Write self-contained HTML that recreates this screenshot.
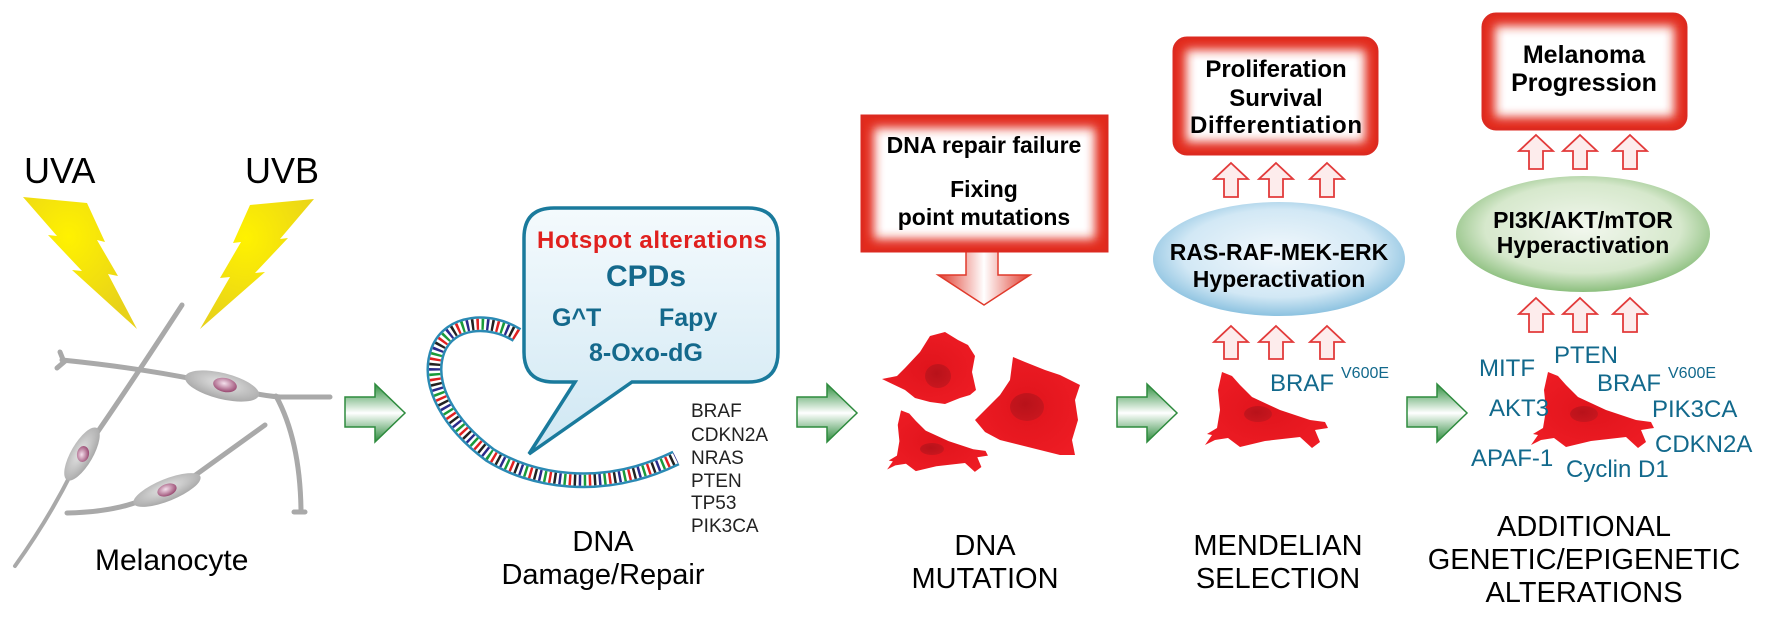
<!DOCTYPE html>
<html><head><meta charset="utf-8"><style>
html,body{margin:0;padding:0;background:#fff;}
svg{display:block;}
text{font-family:"Liberation Sans",Arial,sans-serif;}
.b{font-weight:bold;}
</style></head><body>
<svg width="1772" height="619" viewBox="0 0 1772 619" xmlns="http://www.w3.org/2000/svg">
<defs>
<linearGradient id="gA" x1="0" y1="0" x2="0" y2="1">
<stop offset="0" stop-color="#2f8f3f"/><stop offset="0.5" stop-color="#ffffff"/><stop offset="1" stop-color="#2a8a3a"/></linearGradient>
<linearGradient id="dA" x1="0" y1="0" x2="1" y2="0">
<stop offset="0" stop-color="#e03a2c"/><stop offset="0.5" stop-color="#ffffff"/><stop offset="1" stop-color="#e03a2c"/></linearGradient>
<linearGradient id="bub" x1="0" y1="0" x2="0" y2="1">
<stop offset="0" stop-color="#f4fafd"/><stop offset="1" stop-color="#cfe7f3"/></linearGradient>
<radialGradient id="blueE" cx="0.5" cy="0.45" r="0.55">
<stop offset="0" stop-color="#f2f8fc"/><stop offset="0.7" stop-color="#d2e8f5"/><stop offset="1" stop-color="#8cc2e0"/></radialGradient>
<radialGradient id="greenE" cx="0.5" cy="0.45" r="0.55">
<stop offset="0" stop-color="#f2f7ee"/><stop offset="0.7" stop-color="#d6e8cc"/><stop offset="1" stop-color="#8cbf7e"/></radialGradient>
<radialGradient id="bolt" cx="0.4" cy="0.3" r="0.7">
<stop offset="0" stop-color="#fff200"/><stop offset="1" stop-color="#e8d21a"/></radialGradient>
<radialGradient id="cell" cx="0.5" cy="0.5" r="0.6">
<stop offset="0" stop-color="#e0141c"/><stop offset="1" stop-color="#ee1c24"/></radialGradient>
<radialGradient id="nuc" cx="0.45" cy="0.4" r="0.6">
<stop offset="0" stop-color="#b8121a"/><stop offset="1" stop-color="#c8161e"/></radialGradient>
<radialGradient id="gcell" cx="0.5" cy="0.4" r="0.6">
<stop offset="0" stop-color="#e4e4e4"/><stop offset="1" stop-color="#a8a8a8"/></radialGradient>
<radialGradient id="pn" cx="0.45" cy="0.4" r="0.6">
<stop offset="0" stop-color="#f4e0ec"/><stop offset="1" stop-color="#9a4a72"/></radialGradient>
<filter id="bl" x="-10%" y="-10%" width="120%" height="120%"><feGaussianBlur stdDeviation="5"/></filter>
<clipPath id="c1"><rect x="861" y="115" width="247" height="137"/></clipPath>
<clipPath id="c2"><rect x="1173" y="37" width="205" height="118" rx="14"/></clipPath>
<clipPath id="c3"><rect x="1482" y="13" width="205" height="117" rx="14"/></clipPath>
</defs>

<!-- UV -->
<text x="24" y="183" font-size="36">UVA</text>
<text x="245" y="183" font-size="36">UVB</text>
<polygon fill="url(#bolt)" points="23,197 87,203 105,242 97,240 118,276 108,274 137,329 72,270 82,271 48,235 57,236"/>
<polygon fill="url(#bolt)" points="314,199 250,205 233,243 241,242 220,278 230,277 200,329 265,272 255,273 288,238 280,239"/>

<!-- melanocytes -->
<g stroke="#a9a9a9" stroke-linecap="round" fill="none" stroke-width="5">
<path d="M182,305 Q130,385 92,440"/>
<path d="M72,472 Q48,520 15,566" stroke-width="4"/>
<path d="M60,352 L64,362 L57,368"/>
<path d="M62,360 Q140,368 198,380"/>
<path d="M248,392 Q265,396 280,397 L330,397"/>
<path d="M276,396 Q300,440 301,510"/>
<path d="M294,512 L305,512"/>
<path d="M67,513 Q115,512 145,499"/>
<path d="M190,479 Q230,450 265,425"/>
</g>
<ellipse cx="82" cy="454" rx="30" ry="11" transform="rotate(-60 82 454)" fill="url(#gcell)"/>
<ellipse cx="83" cy="454" rx="8" ry="6" transform="rotate(-80 83 454)" fill="url(#pn)"/>
<ellipse cx="222" cy="386" rx="38" ry="13" transform="rotate(14 222 386)" fill="url(#gcell)"/>
<ellipse cx="225" cy="385" rx="12" ry="7" transform="rotate(12 225 385)" fill="url(#pn)"/>
<ellipse cx="167" cy="490" rx="36" ry="11" transform="rotate(-22 167 490)" fill="url(#gcell)"/>
<ellipse cx="167" cy="490" rx="10" ry="6" transform="rotate(-20 167 490)" fill="url(#pn)"/>
<text x="95" y="570" font-size="30">Melanocyte</text>

<!-- green arrows -->
<g fill="url(#gA)" stroke="#2e8b3e" stroke-width="1.5">
<polygon points="345,397 375,397 375,384 405,413 375,442 375,427 345,427"/>
<polygon points="797,397 827,397 827,384 857,413 827,442 827,427 797,427"/>
<polygon points="1117,397 1147,397 1147,384 1177,413 1147,442 1147,427 1117,427"/>
<polygon points="1407,397 1437,397 1437,384 1467,413 1437,442 1437,427 1407,427"/>
</g>

<!-- DNA helix -->
<g fill="none">
<path d="M517,335 C490,318 450,320 438,350 C425,385 450,425 490,455 C530,480 600,495 676,458" stroke="#2a8ab4" stroke-width="16"/>
<path d="M517,335 C490,318 450,320 438,350 C425,385 450,425 490,455 C530,480 600,495 676,458" stroke="#fff" stroke-width="11"/>
<path d="M517,335 C490,318 450,320 438,350 C425,385 450,425 490,455 C530,480 600,495 676,458" stroke="#e02020" stroke-width="11" stroke-dasharray="2.5 17.5"/>
<path d="M517,335 C490,318 450,320 438,350 C425,385 450,425 490,455 C530,480 600,495 676,458" stroke="#1a9a3a" stroke-width="11" stroke-dasharray="2.5 17.5" stroke-dashoffset="5"/>
<path d="M517,335 C490,318 450,320 438,350 C425,385 450,425 490,455 C530,480 600,495 676,458" stroke="#2a2a8a" stroke-width="11" stroke-dasharray="2.5 17.5" stroke-dashoffset="10"/>
<path d="M517,335 C490,318 450,320 438,350 C425,385 450,425 490,455 C530,480 600,495 676,458" stroke="#222" stroke-width="11" stroke-dasharray="2.5 17.5" stroke-dashoffset="15"/>
</g>

<!-- speech bubble -->
<path d="M554,208 H748 Q778,208 778,238 V352 Q778,382 748,382 H632 L529,454 L575,382 H554 Q524,382 524,352 V238 Q524,208 554,208 Z" fill="url(#bub)" stroke="#1a7a9c" stroke-width="3.5"/>
<text x="652" y="248" font-size="24" class="b" fill="#e0201e" text-anchor="middle" textLength="230">Hotspot alterations</text>
<text x="646" y="286" font-size="30" class="b" fill="#14698c" text-anchor="middle">CPDs</text>
<text x="552" y="326" font-size="25" class="b" fill="#14698c">G^T</text>
<text x="659" y="326" font-size="25" class="b" fill="#14698c">Fapy</text>
<text x="589" y="361" font-size="25" class="b" fill="#14698c">8-Oxo-dG</text>

<g font-size="19" fill="#222">
<text x="691" y="417">BRAF</text>
<text x="691" y="441">CDKN2A</text>
<text x="691" y="464">NRAS</text>
<text x="691" y="487">PTEN</text>
<text x="691" y="509">TP53</text>
<text x="691" y="532">PIK3CA</text>
</g>
<text x="603" y="551" font-size="29" text-anchor="middle">DNA</text>
<text x="603" y="584" font-size="29" text-anchor="middle">Damage/Repair</text>

<!-- DNA repair box -->
<polygon points="966,250 998,250 998,275 1030,275 984,305 938,275 966,275" fill="url(#dA)" stroke="#e03a2c" stroke-width="1.5"/>
<rect x="861" y="115" width="247" height="137" fill="#fff"/>
<g clip-path="url(#c1)"><rect x="861" y="115" width="247" height="137" fill="none" stroke="#e22a1e" stroke-width="26" filter="url(#bl)"/></g>
<rect x="862" y="116" width="245" height="135" fill="none" stroke="#dc2a20" stroke-width="3"/>
<text x="984" y="153" font-size="23" class="b" text-anchor="middle">DNA repair failure</text>
<text x="984" y="197" font-size="23" class="b" text-anchor="middle">Fixing</text>
<text x="984" y="225" font-size="23" class="b" text-anchor="middle">point mutations</text>

<!-- mutated cells -->
<g fill="url(#cell)">
<path d="M882,379 L897,376 L905,368 L920,352 L930,336 L945,332 L958,340 L968,345 L975,356 L972,372 L976,390 L970,395 L960,398 L945,404 L930,402 L915,398 L905,390 Z"/>
<path d="M975,420 L990,405 L1000,395 L1010,380 L1013,357 L1025,362 L1045,370 L1060,375 L1080,385 L1075,400 L1078,420 L1072,440 L1075,455 L1060,455 L1040,450 L1020,445 L1000,440 L985,432 Z"/>
<path d="M1222,372 L1232,376 L1240,385 L1252,397 L1280,410 L1310,420 L1325,422 L1328,428 L1315,430 L1320,442 L1312,448 L1300,437 L1265,441 L1240,447 L1228,438 L1215,440 L1205,445 L1212,435 L1207,434 L1217,428 L1220,410 L1218,390 Z"/>
<path transform="translate(-101,109) scale(0.82 0.81)" d="M1222,372 L1232,376 L1240,385 L1252,397 L1280,410 L1310,420 L1325,422 L1328,428 L1315,430 L1320,442 L1312,448 L1300,437 L1265,441 L1240,447 L1228,438 L1215,440 L1205,445 L1212,435 L1207,434 L1217,428 L1220,410 L1218,390 Z"/>
<path transform="translate(326,0)" d="M1222,372 L1232,376 L1240,385 L1252,397 L1280,410 L1310,420 L1325,422 L1328,428 L1315,430 L1320,442 L1312,448 L1300,437 L1265,441 L1240,447 L1228,438 L1215,440 L1205,445 L1212,435 L1207,434 L1217,428 L1220,410 L1218,390 Z"/>
</g>
<g fill="url(#nuc)">
<ellipse cx="938" cy="376" rx="13" ry="12"/>
<ellipse cx="1027" cy="407" rx="17" ry="14"/>
<ellipse cx="932" cy="449" rx="12" ry="6"/>
<ellipse cx="1258" cy="414" rx="14" ry="8"/>
<ellipse cx="1584" cy="414" rx="14" ry="8"/>
</g>
<text x="985" y="555" font-size="29" text-anchor="middle">DNA</text>
<text x="985" y="588" font-size="29" text-anchor="middle">MUTATION</text>

<!-- Mendelian -->
<text x="1278" y="555" font-size="29" text-anchor="middle">MENDELIAN</text>
<text x="1278" y="588" font-size="29" text-anchor="middle">SELECTION</text>
<text x="1270" y="391" font-size="24" fill="#12698c">BRAF</text>
<text x="1341" y="378" font-size="16" fill="#12698c">V600E</text>

<!-- Proliferation box -->
<rect x="1173" y="37" width="205" height="118" rx="14" fill="#fff"/>
<g clip-path="url(#c2)"><rect x="1173" y="37" width="205" height="118" rx="14" fill="none" stroke="#e22a1e" stroke-width="26" filter="url(#bl)"/></g>
<rect x="1174" y="38" width="203" height="116" rx="13" fill="none" stroke="#dc2a20" stroke-width="3"/>
<text x="1276" y="77" font-size="24" class="b" text-anchor="middle">Proliferation</text>
<text x="1276" y="106" font-size="24" class="b" text-anchor="middle">Survival</text>
<text x="1276" y="133" font-size="24" class="b" text-anchor="middle" textLength="172">Differentiation</text>

<ellipse cx="1279" cy="259" rx="126" ry="57" fill="url(#blueE)"/>
<text x="1279" y="260" font-size="23" class="b" text-anchor="middle">RAS-RAF-MEK-ERK</text>
<text x="1279" y="287" font-size="23" class="b" text-anchor="middle">Hyperactivation</text>

<!-- Melanoma box -->
<rect x="1482" y="13" width="205" height="117" rx="14" fill="#fff"/>
<g clip-path="url(#c3)"><rect x="1482" y="13" width="205" height="117" rx="14" fill="none" stroke="#e22a1e" stroke-width="26" filter="url(#bl)"/></g>
<rect x="1483" y="14" width="203" height="115" rx="13" fill="none" stroke="#dc2a20" stroke-width="3"/>
<text x="1584" y="63" font-size="25" class="b" text-anchor="middle">Melanoma</text>
<text x="1584" y="91" font-size="25" class="b" text-anchor="middle">Progression</text>

<ellipse cx="1583" cy="234" rx="127" ry="58" fill="url(#greenE)"/>
<text x="1583" y="228" font-size="23" class="b" text-anchor="middle">PI3K/AKT/mTOR</text>
<text x="1583" y="253" font-size="23" class="b" text-anchor="middle">Hyperactivation</text>

<!-- up arrows -->
<g fill="#fdecec" stroke="#e23a3a" stroke-width="1.8">
<polygon points="1231,326 1248,342 1238,342 1238,359 1224,359 1224,342 1214,342"/>
<polygon points="1276,326 1293,342 1283,342 1283,359 1269,359 1269,342 1259,342"/>
<polygon points="1327,326 1344,342 1334,342 1334,359 1320,359 1320,342 1310,342"/>
<polygon points="1231,163 1248,179 1238,179 1238,197 1224,197 1224,179 1214,179"/>
<polygon points="1276,163 1293,179 1283,179 1283,197 1269,197 1269,179 1259,179"/>
<polygon points="1327,163 1344,179 1334,179 1334,197 1320,197 1320,179 1310,179"/>
<polygon points="1536,135 1553,151 1543,151 1543,169 1529,169 1529,151 1519,151"/>
<polygon points="1580,135 1597,151 1587,151 1587,169 1573,169 1573,151 1563,151"/>
<polygon points="1630,135 1647,151 1637,151 1637,169 1623,169 1623,151 1613,151"/>
<polygon points="1536,298 1553,314 1543,314 1543,332 1529,332 1529,314 1519,314"/>
<polygon points="1580,298 1597,314 1587,314 1587,332 1573,332 1573,314 1563,314"/>
<polygon points="1630,298 1647,314 1637,314 1637,332 1623,332 1623,314 1613,314"/>
</g>

<!-- genes -->
<g font-size="24" fill="#12698c">
<text x="1479" y="376">MITF</text>
<text x="1554" y="363">PTEN</text>
<text x="1597" y="391">BRAF</text>
<text x="1668" y="378" font-size="16">V600E</text>
<text x="1489" y="416">AKT3</text>
<text x="1652" y="417">PIK3CA</text>
<text x="1655" y="452">CDKN2A</text>
<text x="1471" y="466">APAF-1</text>
<text x="1566" y="477">Cyclin D1</text>
</g>

<text x="1584" y="536" font-size="29" text-anchor="middle">ADDITIONAL</text>
<text x="1584" y="569" font-size="29" text-anchor="middle">GENETIC/EPIGENETIC</text>
<text x="1584" y="602" font-size="29" text-anchor="middle">ALTERATIONS</text>
</svg>
</body></html>
